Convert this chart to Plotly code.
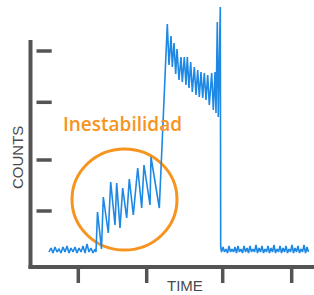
import plotly.graph_objects as go

# ---- data (time units / count units) ----
base1_t = [18, 20, 22, 24, 26, 28, 30, 32, 34, 36, 38, 40, 42, 44, 46, 48, 50, 52, 54, 56, 58, 60, 62, 64, 65]
base1_c = [15, 19, 14, 20, 15, 18, 14, 20, 15, 21, 14, 19, 15, 20, 14, 19, 15, 21, 14, 23, 15, 19, 14, 18, 15]

rise_t = [66.5, 70.5, 72.3, 77.3, 79.7, 84, 85.7, 89, 91.7, 95.7, 98.3, 102.3, 106.7, 110.7, 113, 119, 120, 128.3]
rise_c = [55, 18, 70, 34, 85, 42, 84, 39, 79, 49, 88, 52, 99, 59, 102, 62, 110, 59]

high_t = [136.3, 138, 140, 141.3, 143, 144.7, 146, 148, 150, 151.3, 153.3, 155, 156.3, 158, 159.7, 161.3,
          163.3, 165, 166.7, 168.3, 170, 171.7, 173.3, 175, 176.7, 178.3, 180.7, 182.3, 184, 185, 186.3,
          187.3, 189.3, 189.7]
high_c = [243, 202, 231, 200, 224, 193, 218, 187, 210, 185, 210, 182, 210, 179, 205, 175,
          200, 172, 197, 170, 195, 169, 194, 167, 192, 162, 194, 157, 195, 154, 245,
          150, 260, 20]

base2_t = [190.5, 192, 193.5, 195, 196.5, 198, 199.5, 201, 202.5, 204, 205.5, 207, 208.5, 210, 211.5, 213,
           214.5, 216, 217.5, 219, 220.5, 222, 223.5, 225, 226.5, 228, 229.5, 231, 232.5, 234, 235.5, 237,
           238.5, 240, 241.5, 243, 244.5, 246, 247.5, 249, 250.5, 252, 253.5, 255, 256.5, 258, 259.5, 261,
           262.5, 264, 265.5, 267, 268.5, 270, 271.5, 273, 274.5, 276, 277.5]
base2_c = [15, 20, 15, 18, 14, 21, 15, 18, 15, 20, 14, 21, 15, 18, 14, 21,
           15, 19, 14, 21, 15, 18, 15, 22, 14, 19, 15, 21, 14, 18, 15, 21,
           14, 19, 15, 22, 14, 18, 15, 21, 14, 19, 15, 21, 14, 18, 15, 22,
           14, 19, 15, 21, 14, 18, 15, 22, 14, 20, 15]

x_tick_vals = [47.3, 115.7, 191.7, 260.7]
y_tick_vals = [216, 164.7, 107, 56]

label_text = "Inestabilidad"
x_title = "TIME"
y_title = "COUNTS"

# ---- figure ----
t_all = base1_t + rise_t + high_t + base2_t
c_all = base1_c + rise_c + high_c + base2_c

AX = "#545454"
fig = go.Figure()
fig.add_trace(go.Scatter(x=t_all, y=c_all, mode="lines",
                         line=dict(color="#1E88E5", width=1.6), hoverinfo="skip"))

shapes = []
# orange circle
shapes.append(dict(type="circle", xref="x", yref="y", x0=41, x1=146, y0=17, y1=118,
                   line=dict(color="#F7941D", width=3), layer="below"))
# axis lines
shapes.append(dict(type="line", xref="x", yref="y", x0=-0.5, x1=-0.5, y0=-1.5, y1=227,
                   line=dict(color=AX, width=4)))
shapes.append(dict(type="line", xref="x", yref="y", x0=-2.5, x1=284, y0=0, y1=0,
                   line=dict(color=AX, width=4)))
for v in x_tick_vals:
    shapes.append(dict(type="line", xref="x", yref="y", x0=v, x1=v, y0=-2, y1=-16,
                       line=dict(color=AX, width=3.5)))
for v in y_tick_vals:
    shapes.append(dict(type="line", xref="x", yref="y", x0=5.5, x1=20.7, y0=v, y1=v,
                       line=dict(color=AX, width=3.5)))

annotations = [
    dict(x=91.5, y=143, xref="x", yref="y", text=label_text, showarrow=False,
         xanchor="center", yanchor="middle",
         font=dict(family="Open Sans", size=19, color="#F7941D", weight=600)),
    dict(x=-14, y=109, xref="x", yref="y", text=y_title, showarrow=False, textangle=-90,
         xanchor="center", yanchor="middle",
         font=dict(family="Liberation Sans, Arial", size=15, color="#4a4a4a")),
    dict(x=154, y=-18, xref="x", yref="y", text=x_title, showarrow=False,
         xanchor="center", yanchor="middle",
         font=dict(family="Liberation Sans, Arial", size=15, color="#4a4a4a")),
]

fig.update_layout(
    width=314, height=295,
    margin=dict(l=0, r=0, t=0, b=0),
    paper_bgcolor="white", plot_bgcolor="white",
    showlegend=False,
    shapes=shapes, annotations=annotations,
    xaxis=dict(range=[-31, 283], visible=False, fixedrange=True),
    yaxis=dict(range=[-28, 267], visible=False, fixedrange=True),
)

fig.write_html("out.html", config={"displayModeBar": False},
               post_script="document.body.style.margin='0px';document.body.style.overflow='hidden';")
